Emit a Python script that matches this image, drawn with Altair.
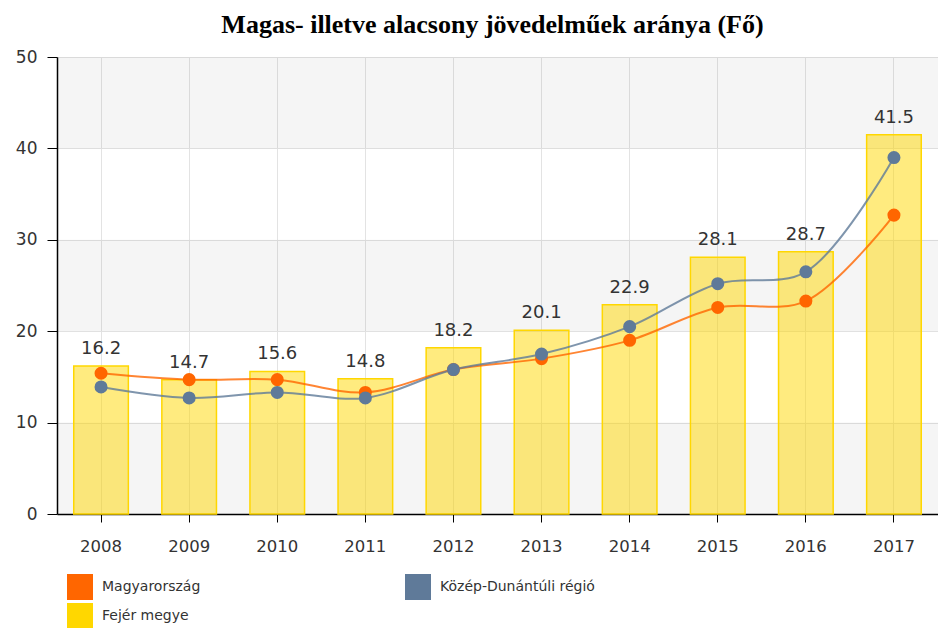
import altair as alt
import pandas as pd

years = ["2008", "2009", "2010", "2011", "2012", "2013", "2014", "2015", "2016", "2017"]
fejer = [16.2, 14.7, 15.6, 14.8, 18.2, 20.1, 22.9, 28.1, 28.7, 41.5]
magyar = [15.4, 14.7, 14.7, 13.3, 15.8, 17.0, 19.0, 22.6, 23.3, 32.7]
kozep = [13.9, 12.7, 13.3, 12.7, 15.8, 17.5, 20.5, 25.2, 26.5, 39.0]

# legend order (column-major in a 2-column legend)
series_names = ["Magyarország", "Fejér megye", "Közép-Dunántúli régió"]
series_colors = ["#FF6600", "#FFD700", "#5F7A99"]
line_names = ["Magyarország", "Közép-Dunántúli régió"]
line_colors = ["#FF6600", "#5F7A99"]

stripe_lo = [0, 20, 40]
stripe_hi = [10, 30, 50]

bars = pd.DataFrame({"year": years, "value": fejer})
lines = pd.DataFrame({
    "year": years * 2,
    "value": magyar + kozep,
    "series": ["Magyarország"] * len(years) + ["Közép-Dunántúli régió"] * len(years),
})
stripes = pd.DataFrame({"lo": stripe_lo, "hi": stripe_hi})

W, H = 881, 457
FONT = "DejaVu Sans"

xscale = alt.Scale(domain=years, paddingInner=0.38, paddingOuter=0.19)
yscale = alt.Scale(domain=[0, 50])
cscale = alt.Scale(domain=series_names, range=series_colors)

y_axis = alt.Axis(title=None, values=[0, 10, 20, 30, 40, 50], grid=True,
                  gridColor="#e3e3e3", domainColor="#000000", domainWidth=1.5,
                  tickColor="#000000", tickSize=10, labelPadding=10,
                  labelFontSize=17, labelColor="#333333", labelFont=FONT)
x_axis = alt.Axis(title=None, labelAngle=0, grid=True, gridColor="#e3e3e3",
                  domainColor="#000000", domainWidth=1.5,
                  tickColor="#000000", tickSize=8, labelPadding=16,
                  labelFontSize=16.5, labelColor="#333333", labelFont=FONT)

legend = alt.Legend(
    title=None, orient="none", legendX=10, legendY=517, columns=2,
    columnPadding=204, rowPadding=3, symbolType="square", symbolSize=676,
    symbolStrokeWidth=0, symbolOpacity=1, labelFontSize=14, labelFont=FONT,
    labelColor="#333333", labelOffset=9, padding=0,
)

stripe_layer = alt.Chart(stripes).mark_rect(color="#000000", opacity=0.04).encode(
    y=alt.Y("lo:Q", scale=yscale, axis=y_axis),
    y2="hi:Q",
)

bar_layer = alt.Chart(bars).mark_bar(
    fill="#FFD700", fillOpacity=0.5, stroke="#FFD700", strokeWidth=1.5
).encode(
    x=alt.X("year:N", scale=xscale, sort=years, axis=x_axis),
    y=alt.Y("value:Q", scale=yscale, axis=y_axis),
)

text_layer = alt.Chart(bars).mark_text(
    baseline="bottom", dy=-8, fontSize=18, font=FONT, color="#333333"
).encode(
    x=alt.X("year:N", scale=xscale, sort=years),
    y=alt.Y("value:Q", scale=yscale),
    text=alt.Text("value:Q", format=".1f"),
)

line_layers = [
    alt.Chart(lines).transform_filter(alt.datum.series == name).mark_line(
        interpolate="catmull-rom", strokeWidth=2, opacity=0.8, color=col
    ).encode(
        x=alt.X("year:N", scale=xscale, sort=years),
        y=alt.Y("value:Q", scale=yscale),
    )
    for name, col in zip(line_names, line_colors)
]

point_layer = alt.Chart(lines).mark_point(filled=True, size=170, opacity=1).encode(
    x=alt.X("year:N", scale=xscale, sort=years),
    y=alt.Y("value:Q", scale=yscale),
    color=alt.Color("series:N", scale=cscale, legend=legend),
)

chart = alt.layer(stripe_layer, bar_layer, text_layer, *line_layers, point_layer).properties(
    width=W, height=H,
    autosize=alt.AutoSizeParams(type="none"),
    padding={"left": 49, "top": 49, "right": 0, "bottom": 114},
    title=alt.TitleParams(
        "Magas- illetve alacsony jövedelműek aránya (Fő)",
        font="Liberation Serif", fontSize=26, fontWeight="bold", color="#000000",
        anchor="middle", offset=10, dx=-5,
    ),
).configure_view(stroke=None).configure(background="#ffffff")

chart.save("out.html", embed_options={"renderer": "svg", "actions": False})
